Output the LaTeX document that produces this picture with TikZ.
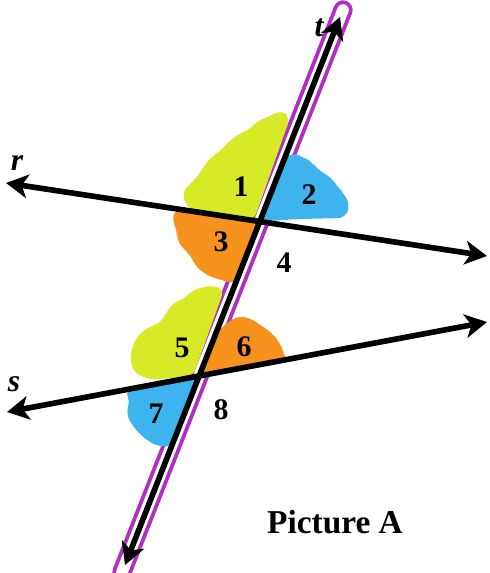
\documentclass[tikz,border=0pt]{standalone}
\usepackage{fontspec}
\setmainfont{Liberation Serif}
\usetikzlibrary{arrows.meta, calc}
\definecolor{lime}{HTML}{D6EA28}
\definecolor{sky}{HTML}{3DB4EE}
\definecolor{amber}{HTML}{F7921E}
\definecolor{purp}{HTML}{B02EC0}
\tikzset{
  lineax/.style = {line width=3.2pt, black,
                   {Stealth[length=12.5pt,width=13.5pt,inset=3.5pt]}-{Stealth[length=12.5pt,width=13.5pt,inset=3.5pt]}},
  halo/.style   = {line width=11pt, purp, line cap=round},
  haloin/.style = {line width=6.6pt, white, line cap=round},
  blob/.style   = {rounded corners=4pt},
  num/.style    = {font=\fontsize{17}{20}\selectfont\bfseries, inner sep=0pt},
  lname/.style  = {font=\fontsize{18}{20}\selectfont\bfseries\itshape, inner sep=0pt},
}
\begin{document}
\begin{tikzpicture}[x=0.02cm, y=-0.02cm]

  \fill[white] (0,0) rectangle (489,573);
  \useasboundingbox (0,0) rectangle (489,573);

  % end points of the three lines
  \coordinate (tA) at (125,565);
  \coordinate (tB) at (340,17);
  \coordinate (rA) at (6,183);
  \coordinate (rB) at (487,256);
  \coordinate (sA) at (7,412);
  \coordinate (sB) at (487,322);
  \coordinate (X1) at (intersection of rA--rB and tA--tB);
  \coordinate (X2) at (intersection of sA--sB and tA--tB);

  % highlighter round t
  \draw[halo] ($(tA)+(-3,7)$) -- ($(tB)+(3,-7)$);
  \draw[haloin] ($(tA)+(-3,7)$) -- ($(tB)+(3,-7)$);

  % coloured angles
  \fill[lime, blob] (290,118) -- (254,220) -- (205,213) -- (187,208) -- (182,192)
    -- (194,180) -- (200,174) -- (204,166) -- (212,156) -- (220,152) -- (226,144)
    -- (240,133) -- (248,131) -- (256,122) -- (270,116) -- (282,110) -- cycle;
  \fill[sky, blob] (X1) -- (284,160) -- (292,152) -- (304,158) -- (312,162) -- (318,170)
    -- (332,178) -- (338,188) -- (343,192) -- (350,205) -- (345,218) -- (300,219) -- cycle;
  \fill[amber, blob] (X1) -- (175,209) -- (172,222) -- (178,230) -- (176,238) -- (184,250)
    -- (192,256) -- (194,265) -- (208,276) -- (228,282) -- (236,283) -- cycle;
  \fill[lime, blob] (224,290) -- (193,376) -- (150,380) -- (133,372) -- (130,355)
    -- (136,337) -- (150,326) -- (160,324) -- (164,316) -- (174,302) -- (186,298)
    -- (192,290) -- (212,285) -- cycle;
  \fill[amber, blob] (X2) -- (216,333) -- (228,322) -- (238,316) -- (250,318)
    -- (262,326) -- (272,333) -- (280,343) -- (285,356) -- (285,360) -- cycle;
  \fill[sky, blob] (X2) -- (125,390) -- (130,400) -- (126,414) -- (134,428)
    -- (146,440) -- (160,447) -- (172,446) -- cycle;

  % lines
  \draw[lineax] (rA) -- (rB);
  \draw[lineax] (sA) -- (sB);
  \draw[lineax] (tA) -- (tB);

  % labels
  \node[lname] (lt) at (319,28) {t};
  \node[lname] (lr) at (17,163) {r};
  \node[lname] (ls) at (14,384) {s};
  \node[num] (n1) at (241,187) {1};
  \node[num] (n2) at (309,195) {2};
  \node[num] (n3) at (221,242) {3};
  \node[num] (n4) at (284,263) {4};
  \node[num] (n5) at (182,348) {5};
  \node[num] (n6) at (244,347) {6};
  \node[num] (n7) at (156,414) {7};
  \node[num] (n8) at (221,410) {8};
  \node[font=\fontsize{19}{22}\selectfont\bfseries, inner sep=0pt] (cap) at (335,522) {Picture A};

\end{tikzpicture}
\end{document}
